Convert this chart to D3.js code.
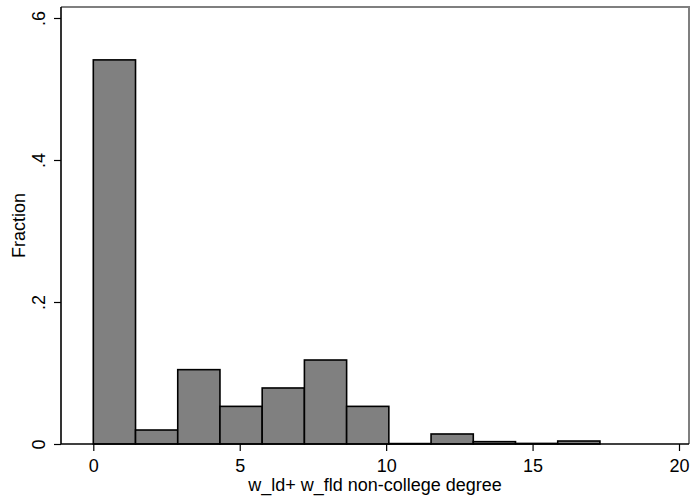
<!DOCTYPE html>
<html><head><meta charset="utf-8">
<script src="https://cdn.jsdelivr.net/npm/d3@7"></script>
<style>body{margin:0;background:#fff}svg{display:block}text{font-family:"Liberation Sans",Arial,sans-serif;fill:#000}</style>
</head><body><svg id="c" width="692" height="502"></svg>
<script>
const binStart = 0;
const binWidth = 1.4417;
const fractions = [0.541, 0.0197, 0.1047, 0.053, 0.0789, 0.1183, 0.053, 0.0006, 0.0141, 0.0033, 0.0008, 0.0042];
const xTicks = [0, 5, 10, 15, 20];
const yTicks = [0, 0.2, 0.4, 0.6];
const yTickLabels = ["0", ".2", ".4", ".6"];
const xTitle = "w_ld+ w_fld non-college degree";
const yTitle = "Fraction";

(function(){
const svg = d3.select("#c");
const x = d3.scaleLinear().domain([0, 20]).range([93.3, 679]);
const y = d3.scaleLinear().domain([0, 0.6]).range([444, 18]);
const L = 61, R = 689, T = 7, B = 444;
const FS = 18;

svg.append("path").attr("d", `M${L},${T}H${R}V${B}`).attr("fill","none").attr("stroke","#7f7f7f").attr("stroke-width",2);

svg.append("g").selectAll("rect").data(fractions).join("rect")
  .attr("x", (d,i)=>x(binStart + i*binWidth))
  .attr("width", (d,i)=>x(binStart+(i+1)*binWidth)-x(binStart+i*binWidth))
  .attr("y", d=>y(d))
  .attr("height", d=>y(0)-y(d))
  .attr("fill","#808080").attr("stroke","#000").attr("stroke-width",1.6);

const xAxis = d3.axisBottom(x).tickValues(xTicks).tickSize(7).tickPadding(8.5).tickFormat(d3.format("d"));
const gx = svg.append("g").attr("transform",`translate(0,${B})`).call(xAxis);
gx.select(".domain").remove();
gx.append("line").attr("x1",L).attr("x2",R).attr("stroke","#000").attr("stroke-width",1.6);
gx.selectAll(".tick line").attr("stroke","#000").attr("stroke-width",1.2);
gx.selectAll(".tick text").attr("font-size",FS).attr("font-family","Liberation Sans, Arial, sans-serif").attr("fill","#000");

const yAxis = d3.axisLeft(y).tickValues(yTicks).tickSize(7).tickPadding(7).tickFormat((d,i)=>yTickLabels[i]);
const gy = svg.append("g").attr("transform",`translate(${L},0)`).call(yAxis);
gy.select(".domain").remove();
gy.append("line").attr("y1",T).attr("y2",B).attr("stroke","#000").attr("stroke-width",1.6);
gy.selectAll(".tick line").attr("stroke","#000").attr("stroke-width",1.2);
gy.selectAll(".tick text").attr("font-size",FS).attr("font-family","Liberation Sans, Arial, sans-serif").attr("fill","#000")
  .attr("text-anchor","middle").attr("dy",null).attr("x",null)
  .attr("transform","translate(-16,0) rotate(-90)").attr("y",0);

svg.append("text").attr("x", (L+R)/2).attr("y", 491).attr("text-anchor","middle").attr("font-size",FS).text(xTitle);
svg.append("text").attr("transform",`translate(25,${(T+B)/2}) rotate(-90)`).attr("text-anchor","middle").attr("font-size",FS).text(yTitle);
})();
</script></body></html>
